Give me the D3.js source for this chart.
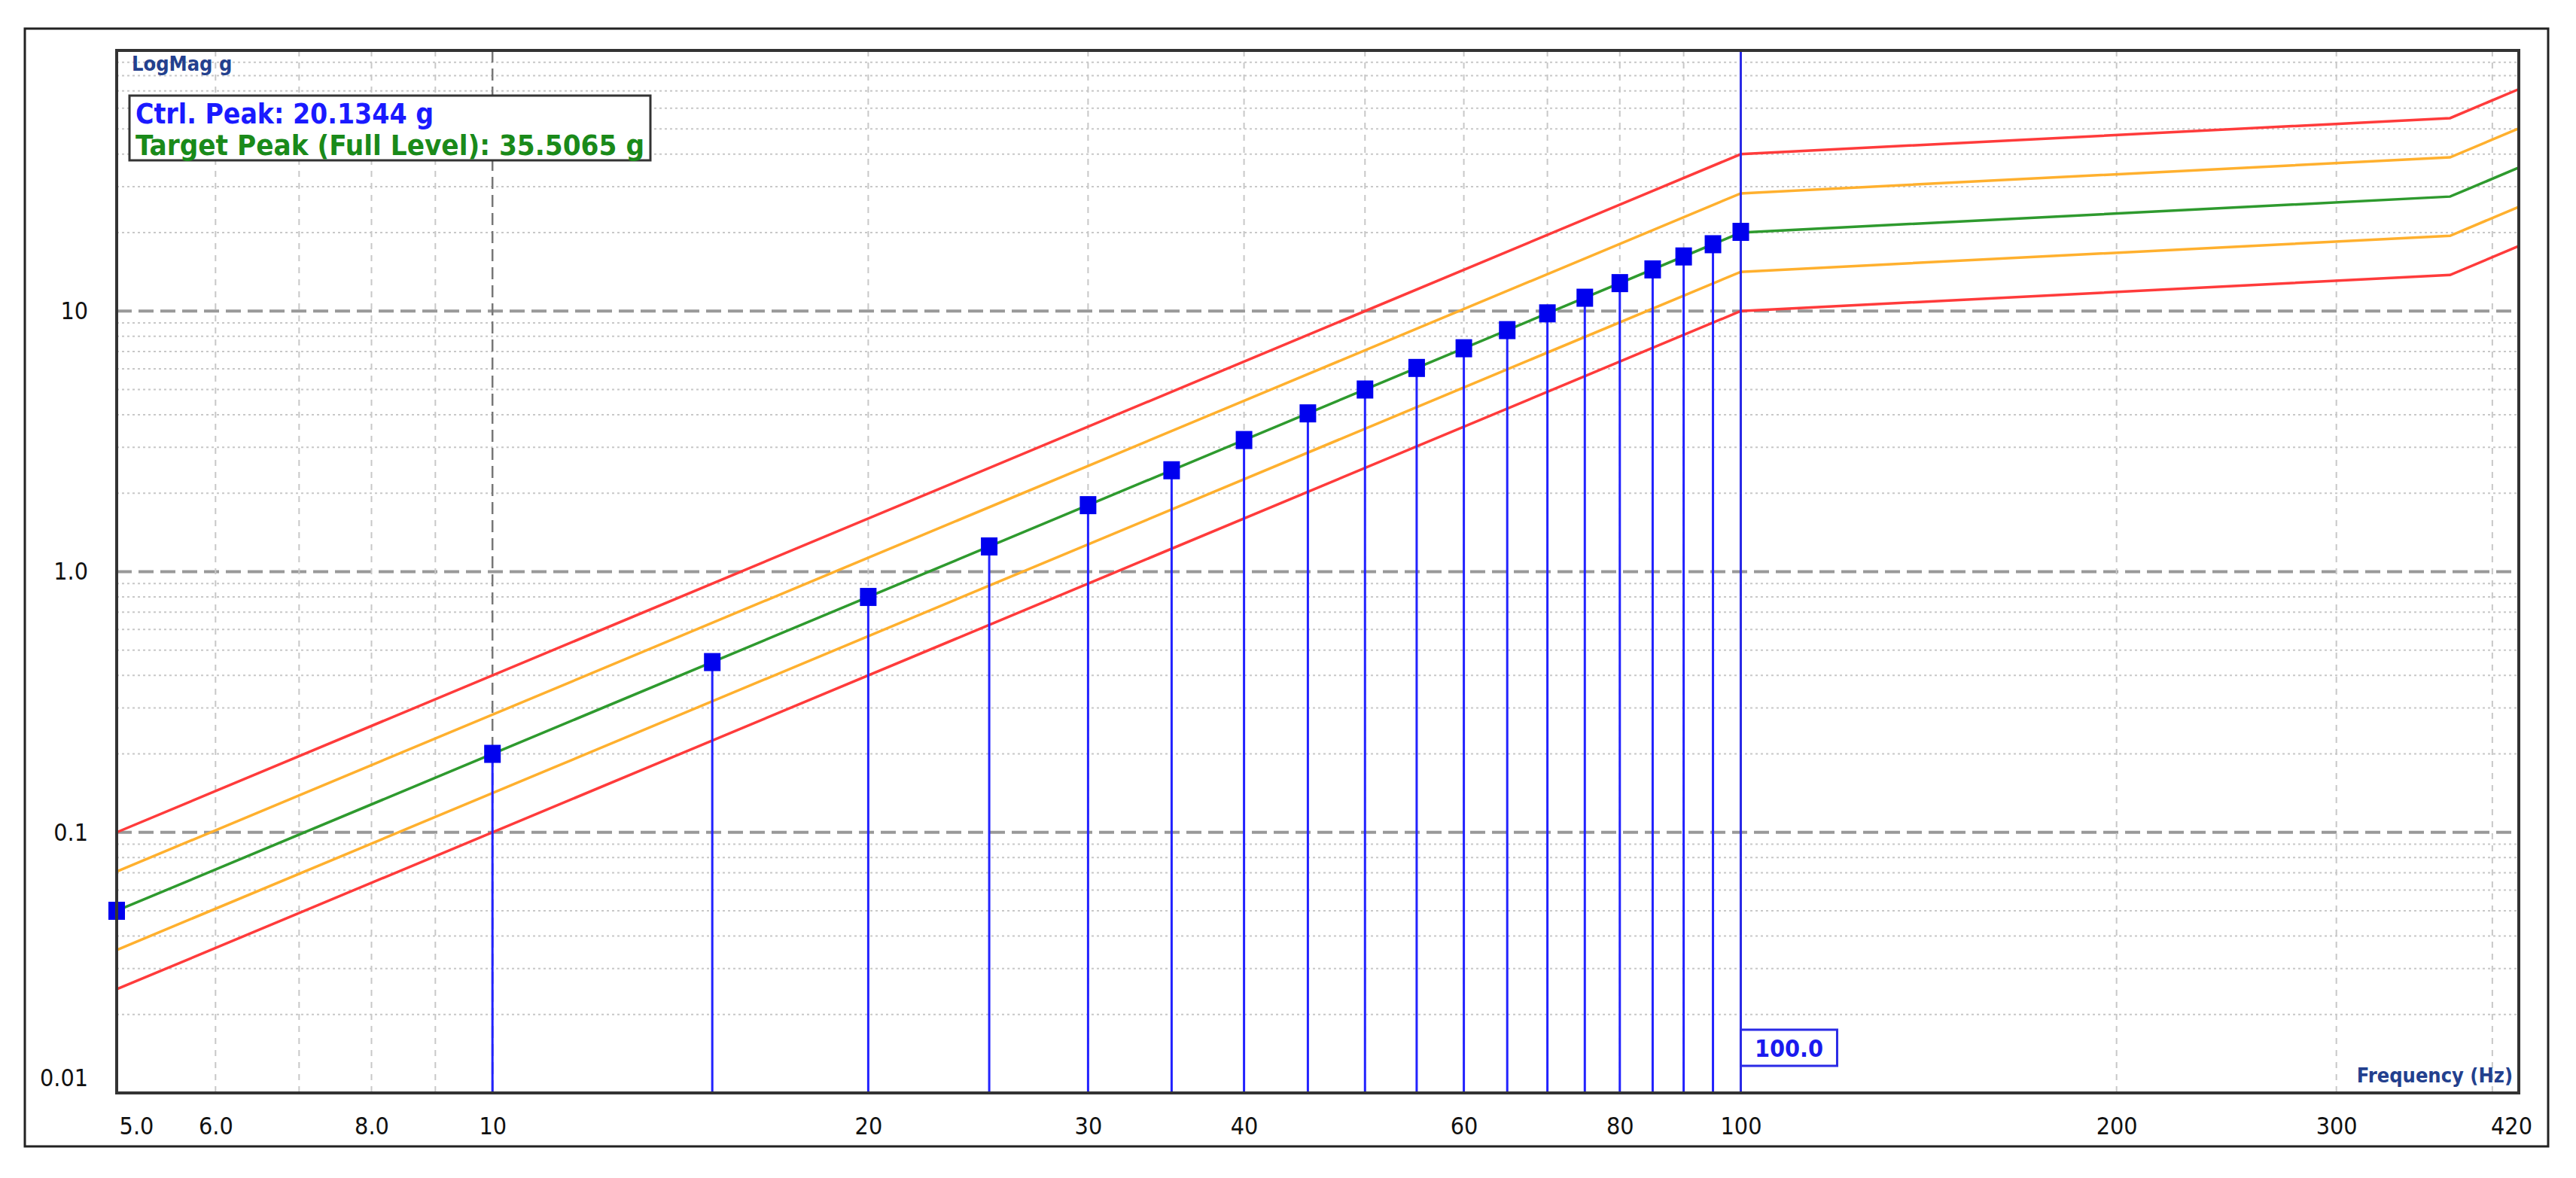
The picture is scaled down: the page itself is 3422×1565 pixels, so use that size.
<!DOCTYPE html>
<html><head><meta charset="utf-8">
<script src="https://cdn.jsdelivr.net/npm/d3@7"></script>
<style>body{margin:0;background:#fff}</style></head>
<body><svg id="c" width="3422" height="1565"></svg>
<script>
// Data
const profileFreq = [5, 100, 370, 420];
const profileTarget = [0.05, 20, 27.5, 35.5];
const bandFactors = [2, Math.SQRT2, 1 / Math.SQRT2, 0.5];
const bandColors = ["#ff3b3b", "#ffb02e", "#ffb02e", "#ff3b3b"];
const stemFreq = [5,10,15,20,25,30,35,40,45,50,55,60,65,70,75,80,85,90,95,100];
const stemValue = [0.05,0.2,0.45,0.8,1.25,1.8,2.45,3.2,4.05,5,6.05,7.2,8.45,9.8,11.25,12.8,14.45,16.2,18.05,20.13];
const xTicks = [5,6,8,10,20,30,40,60,80,100,200,300,420];
const xTickLabels = ["5.0","6.0","8.0","10","20","30","40","60","80","100","200","300","420"];
const yTicks = [0.01,0.1,1,10];
const yTickLabels = ["0.01","0.1","1.0","10"];
const legendLines = ["Ctrl. Peak: 20.1344 g", "Target Peak (Full Level): 35.5065 g"];
const cursorFreq = 100;

const L = 155, T = 67, R = 3346, B = 1452;
const svg = d3.select("#c");
const x = d3.scaleLog().domain([5, 420]).range([L, R]);
const y = d3.scaleLog().domain([0.01, 100]).range([B, T]);
const font = "'DejaVu Sans Condensed','DejaVu Sans',sans-serif";

// outer frame
svg.append("rect").attr("x",33).attr("y",38).attr("width",3352).attr("height",1485)
  .attr("fill","#fff").attr("stroke","#222").attr("stroke-width",3);

// grid
const g = svg.append("g");
const minorY = [];
for (let d = 0.01; d < 100; d *= 10) for (let k = 2; k <= 9; k++) minorY.push(d * k);
g.selectAll(".my").data(minorY).join("line").attr("x1",L).attr("x2",R)
  .attr("y1",d=>y(d)).attr("y2",d=>y(d)).attr("stroke","#c8c8c8").attr("stroke-width",2).attr("stroke-dasharray","3,4");
g.selectAll(".My").data([0.1,1,10]).join("line").attr("x1",L).attr("x2",R)
  .attr("y1",d=>y(d)).attr("y2",d=>y(d)).attr("stroke","#999").attr("stroke-width",4).attr("stroke-dasharray","20,9");
const minorX = [6,7,8,9,20,30,40,50,60,70,80,90,200,300,400];
g.selectAll(".mx").data(minorX).join("line").attr("y1",T).attr("y2",B)
  .attr("x1",d=>x(d)).attr("x2",d=>x(d)).attr("stroke","#c8c8c8").attr("stroke-width",2).attr("stroke-dasharray","8,8");
g.append("line").attr("y1",T).attr("y2",B).attr("x1",x(10)).attr("x2",x(10))
  .attr("stroke","#777").attr("stroke-width",2.5).attr("stroke-dasharray","16,8");

// bands and target
const line = d3.line().x(d=>x(d[0])).y(d=>y(d[1]));
bandFactors.forEach((f,i)=>{
  svg.append("path").attr("d", line(profileFreq.map((fr,j)=>[fr, profileTarget[j]*f])))
    .attr("fill","none").attr("stroke",bandColors[i]).attr("stroke-width",3.5);
});
svg.append("path").attr("d", line(profileFreq.map((fr,j)=>[fr, profileTarget[j]])))
  .attr("fill","none").attr("stroke","#2e9a2e").attr("stroke-width",3.5);

// stems
svg.selectAll(".stem").data(stemFreq.map((f,i)=>[f,stemValue[i]])).join("line")
  .attr("x1",d=>x(d[0])).attr("x2",d=>x(d[0])).attr("y1",B).attr("y2",d=>y(d[1]))
  .attr("stroke","#2222ff").attr("stroke-width",3);
svg.append("line").attr("x1",x(cursorFreq)).attr("x2",x(cursorFreq)).attr("y1",T).attr("y2",B)
  .attr("stroke","#2a2ae6").attr("stroke-width",3);
svg.selectAll(".mk").data(stemFreq.map((f,i)=>[f,stemValue[i]])).join("rect")
  .attr("x",d=>x(d[0])-11).attr("y",d=>y(d[1])-12).attr("width",22).attr("height",24)
  .attr("fill","#0000ee");

// plot frame
svg.append("rect").attr("x",L).attr("y",T).attr("width",R-L).attr("height",B-T)
  .attr("fill","none").attr("stroke","#333").attr("stroke-width",4);

// axes ticks
const xa = svg.append("g").attr("transform",`translate(0,${B})`)
  .call(d3.axisBottom(x).tickValues(xTicks).tickFormat((d,i)=>xTickLabels[i]).tickSize(0).tickPadding(32));
xa.select(".domain").remove();
xa.selectAll("text").attr("font-family",font).attr("font-size",32).attr("fill","#111");
xa.selectAll("text").filter((d,i)=>i===0).attr("dx",26);
xa.selectAll("text").filter((d,i)=>i===xTicks.length-1).attr("dx",-10);
const ya = svg.append("g").attr("transform",`translate(${L},0)`)
  .call(d3.axisLeft(y).tickValues(yTicks).tickFormat((d,i)=>yTickLabels[i]).tickSize(0).tickPadding(38));
ya.select(".domain").remove();
ya.selectAll("text").attr("font-family",font).attr("font-size",32).attr("fill","#111");
ya.selectAll("text").filter((d,i)=>i===0).attr("dy","-0.3em");

// titles
svg.append("text").attr("x",175).attr("y",94).text("LogMag g")
  .attr("font-family",font).attr("font-size",27).attr("font-weight","bold").attr("fill","#23408e");
svg.append("text").attr("x",R-8).attr("y",B-14).attr("text-anchor","end").text("Frequency (Hz)")
  .attr("font-family",font).attr("font-size",27).attr("font-weight","bold").attr("fill","#23408e");

// legend box
svg.append("rect").attr("x",172).attr("y",127).attr("width",692).attr("height",86)
  .attr("fill","#fff").attr("stroke","#333").attr("stroke-width",3);
svg.append("text").attr("x",180).attr("y",164).text(legendLines[0])
  .attr("font-family",font).attr("font-size",38).attr("font-weight","bold").attr("fill","#1a1aff")
  .attr("textLength",396).attr("lengthAdjust","spacingAndGlyphs");
svg.append("text").attr("x",180).attr("y",206).text(legendLines[1])
  .attr("font-family",font).attr("font-size",38).attr("font-weight","bold").attr("fill","#1a8a1a")
  .attr("textLength",676).attr("lengthAdjust","spacingAndGlyphs");

// cursor label
svg.append("rect").attr("x",x(cursorFreq)).attr("y",1368).attr("width",128).attr("height",48)
  .attr("fill","#fff").attr("stroke","#2a2ae6").attr("stroke-width",3);
svg.append("text").attr("x",x(cursorFreq)+64).attr("y",1404).attr("text-anchor","middle").text("100.0")
  .attr("font-family",font).attr("font-size",32).attr("font-weight","bold").attr("fill","#1a1aee");
</script></body></html>
